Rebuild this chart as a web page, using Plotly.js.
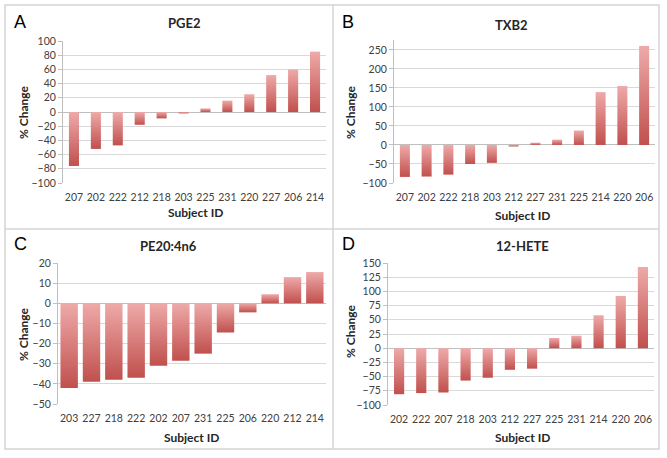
<!DOCTYPE html>
<html>
<head>
<meta charset="utf-8">
<script src="https://cdn.plot.ly/plotly-3.0.1.min.js"></script>
<style>
  html, body { margin: 0; padding: 0; background: #fff; }
  #chart { width: 667px; height: 458px; }
</style>
</head>
<body>
<div id="chart"></div>
<script>
/* Four panels of % change per subject, drawn as gradient bars */

const pgeIds = ['207', '202', '222', '212', '218', '203', '225', '231', '220', '227', '206', '214'];
const pgeValues = [-76, -52, -47, -18, -9, -2, 5, 16, 25, 52, 60, 85];

const txbIds = ['207', '202', '222', '218', '203', '212', '227', '231', '225', '214', '220', '206'];
const txbValues = [-84, -83, -78, -50, -47, -4, 6, 14, 38, 139, 155, 260];

const peIds = ['203', '227', '218', '222', '202', '207', '231', '225', '206', '220', '212', '214'];
const peValues = [-42, -39, -38, -37, -31, -28.5, -25, -14.5, -4.5, 4.5, 13, 15.5];

const heteIds = ['202', '222', '207', '218', '203', '212', '227', '225', '231', '214', '220', '206'];
const heteValues = [-81, -79, -78, -57, -52, -38, -36, 18, 22, 58, 92, 143];

const W = 667, H = 458;
const font = 'Lato, "Open Sans", sans-serif';
const barDark = '#c0504d';
const barLight = '#eeaaa9';

// pixel box helpers -> paper fractions
const px = function(x) { return x / W; };
const py = function(y) { return 1 - y / H; };

const panels = [
  { ids: pgeIds, values: pgeValues, title: 'PGE2', letter: 'A', range: [-100, 100], dtick: 20,
    box: [63, 41, 326, 183], barWidth: 0.46,
    titleAt: [184, 23], letterAt: [20, 22], yTitleAt: [23, 112], xTitleAt: [195, 212] },
  { ids: txbIds, values: txbValues, title: 'TXB2', letter: 'B', range: [-100, 276], dtick: 50,
    box: [394, 40, 655, 183], barWidth: 0.46,
    titleAt: [511, 25], letterAt: [348, 22], yTitleAt: [350, 112], xTitleAt: [522, 215] },
  { ids: peIds, values: peValues, title: 'PE20:4n6', letter: 'C', range: [-50, 20], dtick: 10,
    box: [58, 263, 326, 404], barWidth: 0.78,
    titleAt: [168, 246], letterAt: [20, 244], yTitleAt: [23, 334], xTitleAt: [192, 437] },
  { ids: heteIds, values: heteValues, title: '12-HETE', letter: 'D', range: [-100, 150], dtick: 25,
    box: [388, 263, 654, 405], barWidth: 0.46,
    titleAt: [522, 246], letterAt: [348, 244], yTitleAt: [350, 331], xTitleAt: [522, 437] },
];

let data = [];
let layout = {
  width: W,
  height: H,
  margin: { l: 0, r: 0, t: 0, b: 0 },
  paper_bgcolor: '#ffffff',
  plot_bgcolor: '#ffffff',
  showlegend: false,
  font: { family: font, size: 10.5, color: '#404040' },
  annotations: [],
  shapes: [],
};

// paper-anchored text, always centred on the given pixel
const label = function(text, at, size, extra) {
  return Object.assign({
    text: text, x: px(at[0]), y: py(at[1]), xref: 'paper', yref: 'paper',
    xanchor: 'center', yanchor: 'middle', showarrow: false,
    font: { family: font, size: size, color: '#262626' },
  }, extra || {});
};

panels.forEach(function(p, k) {
  const n = k + 1;
  const xa = 'x' + (n === 1 ? '' : n);
  const ya = 'y' + (n === 1 ? '' : n);
  const half = p.barWidth / 2;

  // one filled trace per bar, so each gets its own vertical gradient
  p.values.forEach(function(v, i) {
    data.push({
      type: 'scatter',
      mode: 'lines',
      x: [i - half, i + half, i + half, i - half, i - half],
      y: [0, 0, v, v, 0],
      fill: 'toself',
      fillcolor: barDark,
      fillgradient: {
        type: 'vertical',
        colorscale: [[0, barDark], [1, barLight]],
      },
      line: { width: 0 },
      xaxis: xa,
      yaxis: ya,
      hoverinfo: 'skip',
    });
  });

  const b = p.box;
  layout['xaxis' + (n === 1 ? '' : n)] = {
    domain: [px(b[0]), px(b[2])],
    anchor: ya,
    range: [-0.5, p.ids.length - 0.5],
    tickvals: p.ids.map(function(_, i) { return i; }),
    ticktext: p.ids,
    tickangle: 0,
    ticks: 'outside',
    ticklen: 4,
    tickcolor: 'rgba(0,0,0,0)',
    showgrid: false,
    zeroline: false,
    showline: false,
    fixedrange: true,
    tickfont: { family: font, size: 10.5, color: '#404040' },
  };
  layout['yaxis' + (n === 1 ? '' : n)] = {
    domain: [py(b[3]), py(b[1])],
    anchor: xa,
    range: p.range,
    tick0: 0,
    dtick: p.dtick,
    ticks: 'outside',
    ticklen: 4,
    tickcolor: '#bfbfbf',
    showline: true,
    linecolor: '#bfbfbf',
    linewidth: 1,
    showgrid: true,
    gridcolor: '#d9d9d9',
    zeroline: true,
    zerolinecolor: '#bfbfbf',
    zerolinewidth: 1,
    fixedrange: true,
    tickfont: { family: font, size: 10.5, color: '#404040' },
  };

  layout.annotations.push(
    label('<b>' + p.title + '</b>', p.titleAt, 13),
    label(p.letter, p.letterAt, 18, { font: { family: '"Liberation Sans", Arial, sans-serif', size: 18, color: '#000000' } }),
    label('<b>% Change</b>', p.yTitleAt, 12, { textangle: -90 }),
    label('<b>Subject ID</b>', p.xTitleAt, 12)
  );
});

// panel frames
const frame = { color: '#d4d4d4', width: 1.5 };
layout.shapes.push(
  { type: 'rect', xref: 'paper', yref: 'paper', x0: px(5), x1: px(659), y0: py(449), y1: py(5), line: frame },
  { type: 'line', xref: 'paper', yref: 'paper', x0: px(333), x1: px(333), y0: py(449), y1: py(5), line: frame },
  { type: 'line', xref: 'paper', yref: 'paper', x0: px(5), x1: px(659), y0: py(229), y1: py(229), line: frame }
);

Plotly.newPlot('chart', data, layout, { displayModeBar: false, staticPlot: true });
</script>
</body>
</html>
